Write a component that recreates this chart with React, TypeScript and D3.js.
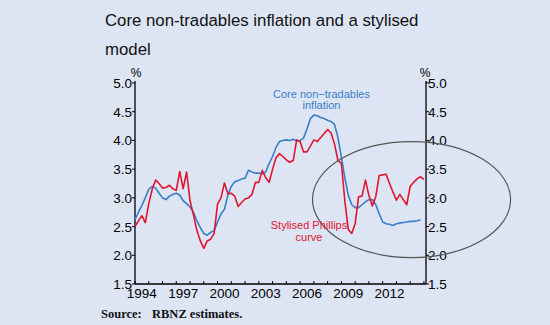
import React from "react";
import * as d3 from "d3";

const quarters: number[] = [
  1994.0, 1994.25, 1994.5, 1994.75, 1995.0, 1995.25, 1995.5, 1995.75,
  1996.0, 1996.25, 1996.5, 1996.75, 1997.0, 1997.25, 1997.5, 1997.75,
  1998.0, 1998.25, 1998.5, 1998.75, 1999.0, 1999.25, 1999.5, 1999.75,
  2000.0, 2000.25, 2000.5, 2000.75, 2001.0, 2001.25, 2001.5, 2001.75,
  2002.0, 2002.25, 2002.5, 2002.75, 2003.0, 2003.25, 2003.5, 2003.75,
  2004.0, 2004.25, 2004.5, 2004.75, 2005.0, 2005.25, 2005.5, 2005.75,
  2006.0, 2006.25, 2006.5, 2006.75, 2007.0, 2007.25, 2007.5, 2007.75,
  2008.0, 2008.25, 2008.5, 2008.75, 2009.0, 2009.25, 2009.5, 2009.75,
  2010.0, 2010.25, 2010.5, 2010.75, 2011.0, 2011.25, 2011.5, 2011.75,
  2012.0, 2012.25, 2012.5, 2012.75, 2013.0, 2013.25, 2013.5, 2013.75,
  2014.0, 2014.25, 2014.5, 2014.75, 2015.0,
];

const coreNonTradables: (number | null)[] = [
  2.62, 2.75, 2.87, 3.0, 3.15, 3.2, 3.17, 3.08,
  3.0, 2.97, 3.03, 3.06, 3.08, 3.05, 2.95, 2.9,
  2.84, 2.75, 2.6, 2.48, 2.38, 2.35, 2.4, 2.43,
  2.58, 2.72, 2.8, 3.05, 3.2, 3.28, 3.3, 3.33,
  3.34, 3.48, 3.45, 3.43, 3.43, 3.42, 3.45, 3.6,
  3.72, 3.88, 3.98, 4.0, 4.01, 4.0, 4.02, 3.99,
  4.0, 4.04, 4.2, 4.38, 4.44, 4.43, 4.4, 4.38,
  4.35, 4.33, 4.28, 4.05, 3.71, 3.35, 3.05, 2.88,
  2.83, 2.83, 2.88, 2.93, 2.97, 2.97, 2.88, 2.72,
  2.58, 2.55, 2.54, 2.52, 2.55, 2.56, 2.57, 2.58,
  2.59, 2.59, 2.6, 2.62, null,
];

const stylisedPhillips: number[] = [
  2.5, 2.6, 2.69, 2.57, 2.9, 3.15, 3.31, 3.25,
  3.17, 3.18, 3.22, 3.16, 3.13, 3.46, 3.16, 3.45,
  2.95, 2.7, 2.43, 2.25, 2.12, 2.25, 2.28, 2.38,
  2.89, 3.0, 3.26, 3.07, 3.08, 3.03, 2.85, 2.92,
  2.98, 3.0, 3.06, 3.27, 3.27, 3.48, 3.35, 3.27,
  3.5, 3.7, 3.77, 3.72, 3.66, 3.62, 3.65, 4.01,
  3.98, 3.8, 3.8, 3.9, 4.01, 3.98, 4.05, 4.12,
  4.19, 4.13, 3.94, 3.65, 3.6, 2.95, 2.45, 2.38,
  2.55, 3.02, 3.03, 3.31, 3.04, 2.86, 3.02, 3.39,
  3.4, 3.41, 3.25, 3.1, 2.96, 3.06, 2.97, 2.88,
  3.2, 3.27, 3.33, 3.37, 3.32,
];

const yTicks: number[] = [1.5, 2.0, 2.5, 3.0, 3.5, 4.0, 4.5, 5.0];
const yearLabels: number[] = [1994, 1997, 2000, 2003, 2006, 2009, 2012];
const yearTicks: number[] = d3.range(1994, 2016);

// annotation ellipse (data coordinates of centre, extent)
const ellipseCentre = { year: 2014.1, value: 2.97 };
const ellipseExtent = { years: 7.2, value: 1.01 };

const BG = "#dde5f5";
const BLUE = "#3a7dc6";
const RED = "#e2142e";

export default function App() {
  const x = d3.scaleLinear().domain([1994, 2015.15]).range([135, 426]);
  const y = d3.scaleLinear().domain([1.5, 5.0]).range([284, 83]);

  const line = d3
    .line<[number, number | null]>()
    .defined((d) => d[1] !== null)
    .x((d) => x(d[0]))
    .y((d) => y(d[1] as number));

  const blueData = quarters.map((q, i) => [q, coreNonTradables[i]] as [number, number | null]);
  const redData = quarters.map((q, i) => [q, stylisedPhillips[i]] as [number, number | null]);

  const ex = x(ellipseCentre.year);
  const ey = y(ellipseCentre.value);
  const rx = x(1994 + ellipseExtent.years) - x(1994);
  const ry = y(1.5) - y(1.5 + ellipseExtent.value);

  const font = "'Liberation Sans', Arial, sans-serif";
  const serif = "'Liberation Serif', 'DejaVu Serif', serif";

  return (
    <svg
      width={550}
      height={325}
      style={{ position: "absolute", left: 0, top: 0, display: "block" }}
      fontFamily={font}
    >
      <rect x={0} y={0} width={550} height={325} fill={BG} />
      <text x={105} y={26} fontSize={16.8} fill="#111">
        Core non-tradables inflation and a stylised
      </text>
      <text x={105} y={55} fontSize={16.8} fill="#111">
        model
      </text>

      {/* axes */}
      <line x1={x(1994)} x2={x(1994)} y1={y(5.0) - 2} y2={y(1.5)} stroke="#000" strokeWidth={1.3} />
      <line x1={x(2015.15)} x2={x(2015.15)} y1={y(5.0) - 2} y2={y(1.5)} stroke="#000" strokeWidth={1.3} />
      <line x1={x(1994)} x2={x(2015.15)} y1={y(1.5)} y2={y(1.5)} stroke="#000" strokeWidth={1.3} />

      {yTicks.map((t) => (
        <g key={t}>
          <line x1={x(1994) - 3} x2={x(1994)} y1={y(t)} y2={y(t)} stroke="#000" />
          <line x1={x(2015.15)} x2={x(2015.15) + 3} y1={y(t)} y2={y(t)} stroke="#000" />
          <text x={x(1994) - 3} y={y(t) + 5} fontSize={13.5} textAnchor="end" fill="#000">
            {t.toFixed(1)}
          </text>
          <text x={x(2015.15) + 2} y={y(t) + 5} fontSize={13.5} textAnchor="start" fill="#000">
            {t.toFixed(1)}
          </text>
        </g>
      ))}
      <text x={x(1994) + 1} y={77} fontSize={12} textAnchor="middle" fill="#000">%</text>
      <text x={x(2015.15) - 1} y={77} fontSize={12} textAnchor="middle" fill="#000">%</text>

      {yearTicks.map((t) => (
        <line key={t} x1={x(t)} x2={x(t)} y1={y(1.5)} y2={y(1.5) - 3} stroke="#000" />
      ))}
      {yearLabels.map((t) => (
        <text key={t} x={x(t + 0.5)} y={298} fontSize={13.5} textAnchor="middle" fill="#000">
          {t}
        </text>
      ))}

      {/* series */}
      <path d={line(blueData) || ""} fill="none" stroke={BLUE} strokeWidth={1.6} strokeLinejoin="round" />
      <path d={line(redData) || ""} fill="none" stroke={RED} strokeWidth={1.6} strokeLinejoin="round" />

      <ellipse cx={ex} cy={ey} rx={rx} ry={ry} fill="none" stroke="#555" strokeWidth={1.2} />

      <text x={321.5} y={98} fontSize={11} textAnchor="middle" fill={BLUE}>
        Core non−tradables
      </text>
      <text x={321.5} y={109} fontSize={11} textAnchor="middle" fill={BLUE}>
        inflation
      </text>
      <text x={309} y={229} fontSize={11} textAnchor="middle" fill={RED}>
        Stylised Phillips
      </text>
      <text x={309} y={241} fontSize={11} textAnchor="middle" fill={RED}>
        curve
      </text>

      <text x={101} y={318} fontSize={12.5} fontWeight="bold" fill="#111" fontFamily={serif}>
        Source:
      </text>
      <text x={152} y={318} fontSize={12.5} fontWeight="bold" fill="#111" fontFamily={serif}>
        RBNZ estimates.
      </text>
    </svg>
  );
}
